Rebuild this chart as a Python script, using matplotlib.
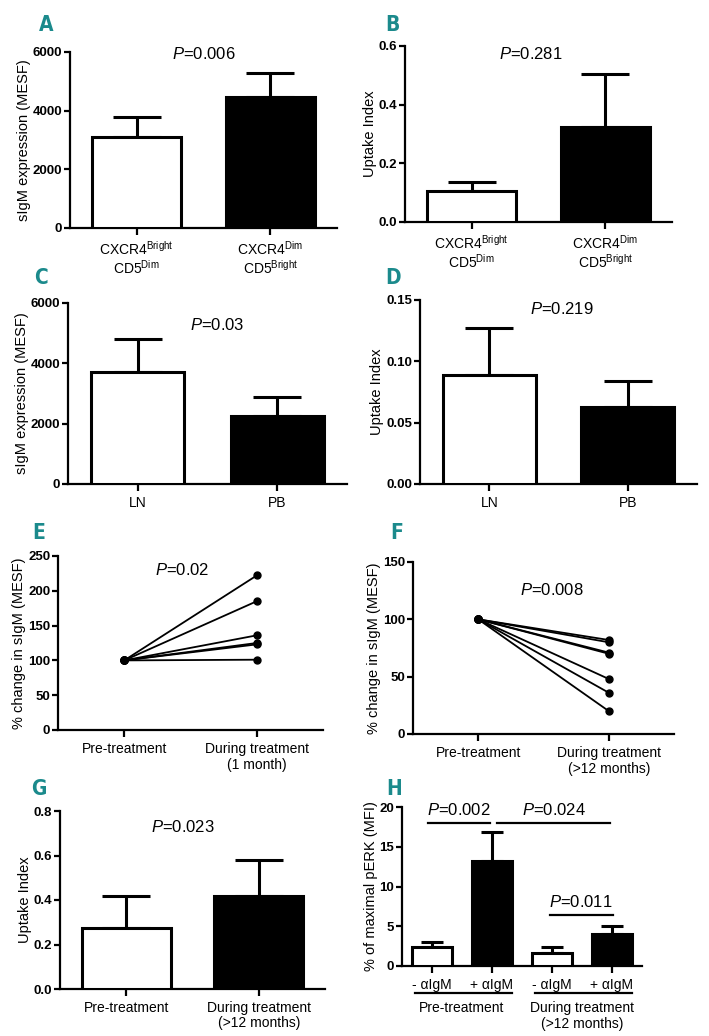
import numpy as np
import matplotlib
matplotlib.use('Agg')
import matplotlib.pyplot as plt

plt.rcParams['font.family'] = ['Liberation Sans', 'DejaVu Sans']
plt.rcParams['mathtext.fontset'] = 'custom'
plt.rcParams['mathtext.rm'] = 'Liberation Sans'
plt.rcParams['mathtext.it'] = 'Liberation Sans:italic'
plt.rcParams['mathtext.bf'] = 'Liberation Sans:bold'
plt.rcParams['axes.labelpad'] = 1.5

TEAL = '#1b8a8c'
W, H = 709, 1036

# ---- data ----
cxcr_labels = ['CXCR4$^{\\mathregular{Bright}}$\nCD5$^{\\mathregular{Dim}}$',
               'CXCR4$^{\\mathregular{Dim}}$\nCD5$^{\\mathregular{Bright}}$']
site_labels = ['LN', 'PB']
treat_labels = ['Pre-treatment', 'During treatment\n(>12 months)']

a_mean = [3100, 4480]
a_sem = [700, 820]
b_mean = [0.107, 0.324]
b_sem = [0.029, 0.181]
c_mean = [3700, 2250]
c_sem = [1100, 650]
d_mean = [0.089, 0.063]
d_sem = [0.038, 0.021]

e_pre = [100, 100, 100, 100, 100, 100]
e_during = [222, 185, 136, 125, 123, 101]
f_pre = [100, 100, 100, 100, 100, 100, 100]
f_during = [82, 80, 71, 70, 48, 36, 20]

g_mean = [0.272, 0.420]
g_sem = [0.145, 0.158]

h_labels = ['- \u03b1IgM', '+ \u03b1IgM', '- \u03b1IgM', '+ \u03b1IgM']
h_mean = [2.43, 13.2, 1.67, 4.0]
h_sem = [0.54, 3.6, 0.76, 1.06]
h_groups = ['Pre-treatment', 'During treatment\n(>12 months)']
# comparisons: x from, x to, height, label
h_comp = [(-0.07, 0.97, 18.0, '0.002'), (1.08, 2.97, 18.0, '0.024'), (1.96, 3.01, 6.44, '0.011')]

fig = plt.figure(figsize=(W / 100, H / 100), dpi=100)


def make_ax(left, right, top, bottom):
    ax = fig.add_axes([left / W, 1 - bottom / H, (right - left) / W, (bottom - top) / H])
    for s in ['top', 'right']:
        ax.spines[s].set_visible(False)
    for s in ['left', 'bottom']:
        ax.spines[s].set_linewidth(1.6)
    ax.tick_params(axis='both', width=1.6, length=4.5, direction='out')
    ax.tick_params(axis='y', labelsize=9.5, pad=1)
    ax.tick_params(axis='x', labelsize=10, length=5)
    return ax


def bold_yticks(ax):
    for t in ax.get_yticklabels():
        t.set_fontweight('bold')


def bar_panel(ax, means, sems, labels, capsize=17.5):
    x = np.arange(len(means))
    ax.bar(x, means, width=0.67, color=['white', 'black'] * (len(means) // 2),
           edgecolor='black', linewidth=2.2, zorder=3)
    ax.errorbar(x, means, yerr=[np.zeros(len(sems)), sems], fmt='none', ecolor='black',
                elinewidth=2.2, capsize=capsize, capthick=2.2, zorder=2)
    ax.set_xticks(x)
    ax.set_xticklabels(labels, linespacing=1.1)
    ax.set_xlim(-0.5, len(means) - 0.5)


def pval(ax, x, y, s):
    ax.text(x, y, '$\\mathit{P}$=' + s, ha='center', va='center', fontsize=12)


def letter(x, y, s):
    fig.text(x / W, 1 - y / H, s, color=TEAL, fontsize=15, fontweight='bold',
             family='DejaVu Sans', fontstretch='condensed', ha='center', va='center')


# A
ax = make_ax(70, 337, 52, 228)
bar_panel(ax, a_mean, a_sem, cxcr_labels)
ax.set_ylim(0, 6000)
ax.set_yticks([0, 2000, 4000, 6000])
ax.set_ylabel('sIgM expression (MESF)', fontsize=10.5)
pval(ax, 0.5, 5930, '0.006')
bold_yticks(ax)
letter(46, 25, 'A')

# B
ax = make_ax(405, 672, 46, 222)
bar_panel(ax, b_mean, b_sem, cxcr_labels)
ax.set_ylim(0, 0.6)
ax.set_yticks([0, 0.2, 0.4, 0.6])
ax.set_yticklabels(['0.0', '0.2', '0.4', '0.6'])
ax.set_ylabel('Uptake Index', fontsize=10.5)
pval(ax, 0.44, 0.573, '0.281')
bold_yticks(ax)
letter(392, 25, 'B')

# C
ax = make_ax(68, 347, 303, 484)
bar_panel(ax, c_mean, c_sem, site_labels)
ax.set_ylim(0, 6000)
ax.set_yticks([0, 2000, 4000, 6000])
ax.set_ylabel('sIgM expression (MESF)', fontsize=10.5)
pval(ax, 0.57, 5270, '0.03')
bold_yticks(ax)
letter(41, 278, 'C')

# D
ax = make_ax(420, 697, 300, 484)
bar_panel(ax, d_mean, d_sem, site_labels)
ax.set_ylim(0, 0.15)
ax.set_yticks([0, 0.05, 0.10, 0.15])
ax.set_yticklabels(['0.00', '0.05', '0.10', '0.15'])
ax.set_ylabel('Uptake Index', fontsize=10.5)
pval(ax, 0.525, 0.1427, '0.219')
bold_yticks(ax)
letter(393, 278, 'D')

# E
ax = make_ax(58, 323, 556, 730)
for a, b in zip(e_pre, e_during):
    ax.plot([0, 1], [a, b], color='black', lw=1.3, marker='o', ms=5, zorder=3)
ax.set_xlim(-0.5, 1.5)
ax.set_ylim(0, 250)
ax.set_yticks([0, 50, 100, 150, 200, 250])
ax.set_xticks([0, 1])
ax.set_xticklabels(['Pre-treatment', 'During treatment\n(1 month)'])
ax.set_ylabel('% change in sIgM (MESF)', fontsize=10.5)
pval(ax, 0.436, 230, '0.02')
bold_yticks(ax)
letter(39, 533, 'E')

# F
ax = make_ax(413, 674, 562, 734)
for a, b in zip(f_pre, f_during):
    ax.plot([0, 1], [a, b], color='black', lw=1.3, marker='o', ms=5, zorder=3)
ax.set_xlim(-0.5, 1.5)
ax.set_ylim(0, 150)
ax.set_yticks([0, 50, 100, 150])
ax.set_xticks([0, 1])
ax.set_xticklabels(['Pre-treatment', 'During treatment\n(>12 months)'])
ax.set_ylabel('% change in sIgM (MESF)', fontsize=10.5)
pval(ax, 0.565, 126, '0.008')
bold_yticks(ax)
letter(397, 533, 'F')

# G
ax = make_ax(60, 325, 811, 989)
bar_panel(ax, g_mean, g_sem, treat_labels)
ax.set_ylim(0, 0.8)
ax.set_yticks([0, 0.2, 0.4, 0.6, 0.8])
ax.set_yticklabels(['0.0', '0.2', '0.4', '0.6', '0.8'])
ax.set_ylabel('Uptake Index', fontsize=10.5)
pval(ax, 0.43, 0.728, '0.023')
bold_yticks(ax)
letter(39, 789, 'G')

# H
ax = make_ax(402, 642, 807, 966)
bar_panel(ax, h_mean, h_sem, h_labels, capsize=8)
ax.set_ylim(0, 20)
ax.set_yticks([0, 5, 10, 15, 20])
ax.set_ylabel('% of maximal pERK (MFI)', fontsize=10.5)
ax.tick_params(axis='x', labelsize=10)
for x1, x2, y, s in h_comp:
    ax.plot([x1, x2], [y, y], color='black', lw=1.6, clip_on=False)
    pval(ax, (x1 + x2) / 2, y + 1.6, s)
trans = ax.get_xaxis_transform()
for i, g in enumerate(h_groups):
    x0 = 2 * i
    ax.plot([x0 - 0.28, x0 + 1.33], [-0.17, -0.17], color='black', lw=1.6,
            transform=trans, clip_on=False)
    ax.text(x0 + 0.5, -0.22, g, transform=trans, ha='center', va='top', fontsize=10)
bold_yticks(ax)
letter(394, 789, 'H')

fig.savefig('out.png', dpi=100)
